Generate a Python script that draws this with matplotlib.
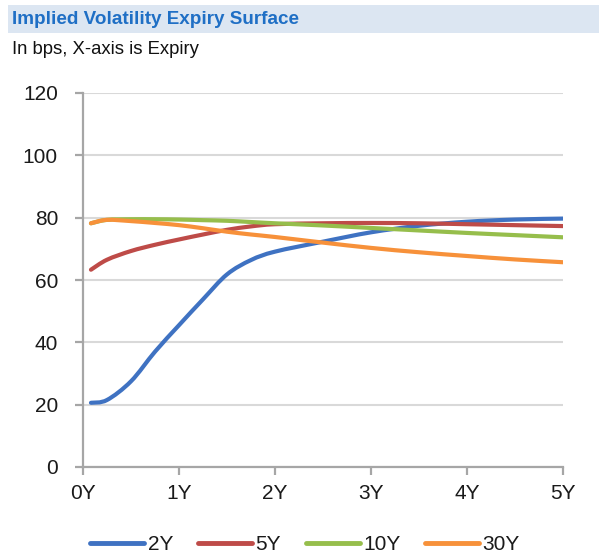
import numpy as np
import matplotlib
matplotlib.use("Agg")
import matplotlib.pyplot as plt
from matplotlib.path import Path
from matplotlib.patches import PathPatch, Rectangle
from matplotlib.lines import Line2D

plt.rcParams['font.family'] = ['Liberation Sans', 'DejaVu Sans']

# Expiry (years) and implied vol (bps) per swap tenor
expiry = [0.083, 0.25, 0.5, 0.75, 1.0, 1.25, 1.5, 1.75, 2.0, 2.5, 3.0, 3.5, 4.0, 4.5, 5.0]
vol_2y = [20.6, 21.5, 27.5, 37.0, 45.5, 53.8, 61.8, 66.4, 69.1, 72.3, 75.3, 77.4, 78.7, 79.4, 79.7]
vol_5y = [63.3, 66.5, 69.3, 71.3, 73.0, 74.6, 76.1, 77.2, 77.9, 78.2, 78.3, 78.2, 77.9, 77.6, 77.3]
vol_10y = [78.2, 79.3, 79.5, 79.5, 79.4, 79.2, 79.0, 78.6, 78.2, 77.5, 76.7, 75.9, 75.1, 74.4, 73.7]
vol_30y = [78.2, 79.3, 78.9, 78.3, 77.6, 76.6, 75.5, 74.6, 73.8, 72.0, 70.3, 68.9, 67.7, 66.6, 65.7]

series_names = ['2Y', '5Y', '10Y', '30Y']
series_values = [vol_2y, vol_5y, vol_10y, vol_30y]
series_colors = ['#3F72C2', '#BE4B48', '#96BE4C', '#F7913A']

x_ticks = [0, 1, 2, 3, 4, 5]
x_tick_labels = ['0Y', '1Y', '2Y', '3Y', '4Y', '5Y']
y_ticks = [0, 20, 40, 60, 80, 100, 120]


def smooth_path(xs, ys):
    """Cubic Bezier path through the points (Catmull-Rom style smoothing)."""
    pts = np.column_stack([xs, ys]).astype(float)
    n = len(pts)
    verts = [pts[0]]
    codes = [Path.MOVETO]
    for i in range(n - 1):
        p0 = pts[i - 1] if i > 0 else pts[i]
        p1 = pts[i]
        p2 = pts[i + 1]
        p3 = pts[i + 2] if i + 2 < n else pts[i + 1]
        c1 = p1 + (p2 - p0) / 6.0
        c2 = p2 - (p3 - p1) / 6.0
        verts += [c1, c2, p2]
        codes += [Path.CURVE4] * 3
    return Path(verts, codes)


W, H = 599, 554
fig = plt.figure(figsize=(W / 100, H / 100), dpi=100)

# Header band
fig.patches.append(Rectangle((8 / W, 1 - 33 / H), 1 - 8 / W, 28 / H,
                             transform=fig.transFigure, facecolor='#DCE6F2',
                             edgecolor='none', zorder=0))
fig.text(12 / W, 1 - 19 / H, 'Implied Volatility Expiry Surface', fontsize=13.6,
         fontweight='bold', color='#1F6FC5', va='center', ha='left')
fig.text(12 / W, 1 - 50 / H, 'In bps, X-axis is Expiry', fontsize=13.3,
         color='#111111', va='center', ha='left')

ax = fig.add_axes([83 / W, 1 - 467 / H, (563 - 83) / W, (467 - 93) / H])
ax.set_xlim(0, 5)
ax.set_ylim(0, 120)

for name, vals, col in zip(series_names, series_values, series_colors):
    patch = PathPatch(smooth_path(expiry, vals), facecolor='none', edgecolor=col,
                      lw=3.0, capstyle='round', joinstyle='round', zorder=3)
    ax.add_patch(patch)

ax.set_xticks(x_ticks)
ax.set_xticklabels(x_tick_labels)
ax.set_yticks(y_ticks)
ax.yaxis.grid(True, color='#D9D9D9', lw=1.5)
ax.set_axisbelow(True)

for side in ['top', 'right']:
    ax.spines[side].set_visible(False)
for side in ['left', 'bottom']:
    ax.spines[side].set_color('#A6A6A6')
    ax.spines[side].set_linewidth(1.6)
ax.tick_params(axis='both', direction='out', length=6, width=1.6, color='#A6A6A6',
               labelsize=15, labelcolor='#1A1A1A')
ax.tick_params(axis='y', pad=12)
ax.tick_params(axis='x', pad=6)

handles = [Line2D([0], [0], color=c, lw=3.5, solid_capstyle='round') for c in series_colors]
fig.legend(handles, series_names, loc='center', bbox_to_anchor=(305 / W, 1 - 545 / H),
           ncol=4, frameon=False, fontsize=15, handlelength=2.6, handletextpad=0.15,
           columnspacing=1.2, labelcolor='#1A1A1A')

fig.savefig('out.png', dpi=100)
